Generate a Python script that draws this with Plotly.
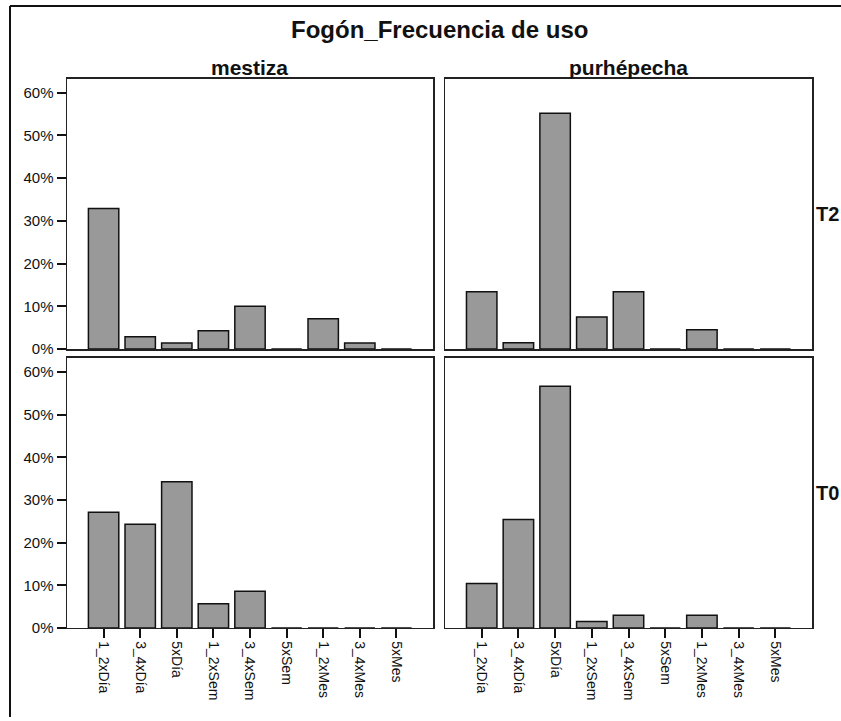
import plotly.graph_objects as go

categories = ["1_2xDía", "3_4xDía", "5xDía", "1_2xSem", "3_4xSem", "5xSem", "1_2xMes", "3_4xMes", "5xMes"]
groups = ["mestiza", "purhépecha"]
periods = ["T2", "T0"]

mestiza_T2 = [32.9, 2.9, 1.4, 4.3, 10.0, 0.0, 7.1, 1.4, 0.0]
purhepecha_T2 = [13.4, 1.5, 55.2, 7.5, 13.4, 0.0, 4.5, 0.0, 0.0]
mestiza_T0 = [27.1, 24.3, 34.3, 5.7, 8.6, 0.0, 0.0, 0.0, 0.0]
purhepecha_T0 = [10.4, 25.4, 56.7, 1.5, 3.0, 0.0, 3.0, 0.0, 0.0]

y_ticks = [0, 10, 20, 30, 40, 50, 60]
y_ticklabels = ["0%", "10%", "20%", "30%", "40%", "50%", "60%"]

W, H = 841, 721
FONT = "Liberation Sans, Arial, sans-serif"

def px_x(p):
    return p / W

def px_y(p):
    return 1 - p / H

fig = go.Figure()

panels = [
    (mestiza_T2, "x", "y"),
    (purhepecha_T2, "x2", "y2"),
    (mestiza_T0, "x3", "y3"),
    (purhepecha_T0, "x4", "y4"),
]
xs = list(range(len(categories)))
for vals, xa, ya in panels:
    fig.add_trace(go.Bar(
        x=xs, y=vals, xaxis=xa, yaxis=ya, width=0.83,
        marker=dict(color="#999999", line=dict(color="#111111", width=1.5)),
        showlegend=False, hoverinfo="skip",
    ))

xdom_l = [px_x(67), px_x(433)]
xdom_r = [px_x(445), px_x(812)]
ydom_t = [px_y(353), px_y(79.5)]
ydom_b = [px_y(635), px_y(362)]

common_x = dict(range=[-1, 9], showgrid=False, zeroline=False, showline=True, mirror=True,
                linecolor="#222222", linewidth=1.5, fixedrange=True)
common_y = dict(range=[0, 63.3], showgrid=False, zeroline=False, showline=True, mirror=True,
                linecolor="#222222", linewidth=1.5, fixedrange=True,
                tickvals=y_ticks, ticktext=y_ticklabels)

ytick_style = dict(ticks="outside", ticklen=9, tickwidth=2, tickcolor="#111111",
                   tickfont=dict(family=FONT, size=15, color="#111111"))
xtick_style = dict(ticks="outside", ticklen=9, tickwidth=2, tickcolor="#111111",
                   tickvals=xs, ticktext=categories, tickangle=90,
                   tickfont=dict(family=FONT, size=14, color="#111111"))

fig.update_layout(
    width=W, height=H, autosize=False,
    margin=dict(l=0, r=0, t=0, b=0),
    paper_bgcolor="white", plot_bgcolor="white",
    bargap=0,
    xaxis=dict(domain=xdom_l, anchor="y", showticklabels=False, ticks="", **common_x),
    yaxis=dict(domain=ydom_t, anchor="x", **common_y, **ytick_style),
    xaxis2=dict(domain=xdom_r, anchor="y2", showticklabels=False, ticks="", **common_x),
    yaxis2=dict(domain=ydom_t, anchor="x2", showticklabels=False, ticks="", **common_y),
    xaxis3=dict(domain=xdom_l, anchor="y3", **common_x, **xtick_style),
    yaxis3=dict(domain=ydom_b, anchor="x3", **common_y, **ytick_style),
    xaxis4=dict(domain=xdom_r, anchor="y4", **common_x, **xtick_style),
    yaxis4=dict(domain=ydom_b, anchor="x4", showticklabels=False, ticks="", **common_y),
)

annotations = [
    dict(text="<b>Fogón_Frecuencia de uso</b>", x=px_x(439), y=px_y(30), xref="paper", yref="paper",
         xanchor="center", yanchor="middle", showarrow=False,
         font=dict(family=FONT, size=24, color="#111111")),
    dict(text="<b>" + groups[0] + "</b>", x=(xdom_l[0] + xdom_l[1]) / 2, y=px_y(68), xref="paper", yref="paper",
         xanchor="center", yanchor="middle", showarrow=False,
         font=dict(family=FONT, size=21, color="#111111")),
    dict(text="<b>" + groups[1] + "</b>", x=(xdom_r[0] + xdom_r[1]) / 2, y=px_y(68), xref="paper", yref="paper",
         xanchor="center", yanchor="middle", showarrow=False,
         font=dict(family=FONT, size=21, color="#111111")),
    dict(text="<b>" + periods[0] + "</b>", x=px_x(814), y=(ydom_t[0] + ydom_t[1]) / 2, xref="paper", yref="paper",
         xanchor="left", yanchor="middle", showarrow=False,
         font=dict(family=FONT, size=20, color="#111111")),
    dict(text="<b>" + periods[1] + "</b>", x=px_x(814), y=(ydom_b[0] + ydom_b[1]) / 2, xref="paper", yref="paper",
         xanchor="left", yanchor="middle", showarrow=False,
         font=dict(family=FONT, size=20, color="#111111")),
]
fig.update_layout(annotations=annotations)

fig.update_layout(shapes=[
    dict(type="line", xref="paper", yref="paper", x0=px_x(10), x1=px_x(845), y0=px_y(6), y1=px_y(6),
         line=dict(color="#111111", width=2)),
    dict(type="line", xref="paper", yref="paper", x0=px_x(10), x1=px_x(10), y0=px_y(6), y1=px_y(725),
         line=dict(color="#111111", width=2)),
])

fig.write_html(
    "out.html",
    config={"displayModeBar": False, "staticPlot": True},
    post_script="document.body.style.margin='0px';document.body.style.overflow='hidden';",
)
